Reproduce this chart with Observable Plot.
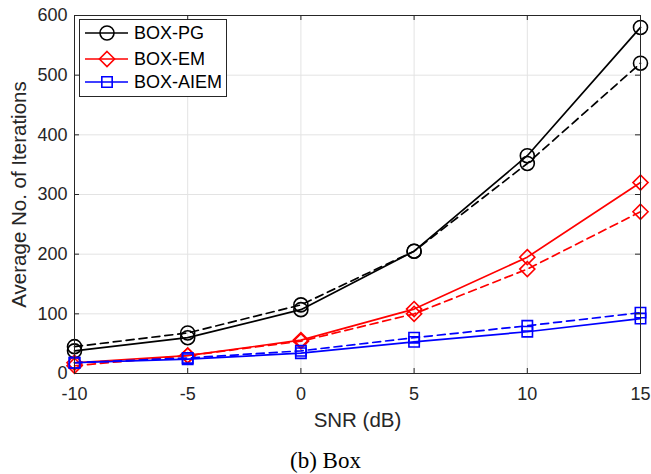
<!DOCTYPE html>
<html>
<head>
<meta charset="utf-8">
<script src="https://cdn.jsdelivr.net/npm/d3@7"></script>
<script src="https://cdn.jsdelivr.net/npm/@observablehq/plot@0.6"></script>
<style>
  html, body { margin: 0; padding: 0; background: #fff; }
  #wrap { position: relative; width: 651px; height: 474px; }
  #legend { position: absolute; left: 79px; top: 19px; width: 148px; height: 78px;
    border: 1px solid #262626; background: #fff; box-sizing: border-box; }
  #legend svg { display: block; }
</style>
</head>
<body>
<div id="wrap"></div>
<script>
const snr = [-10, -5, 0, 5, 10, 15];
const xTicks = [-10, -5, 0, 5, 10, 15];
const yTicks = [0, 100, 200, 300, 400, 500, 600];

const pgSolid    = [38, 60, 107, 205, 365, 580];
const pgDashed   = [45, 68, 115, 205, 352, 520];
const emSolid    = [18, 30, 56, 108, 195, 320];
const emDashed   = [13, 30, 54, 100, 175, 271];
const aiemSolid  = [18, 24, 34, 53, 70, 92];
const aiemDashed = [18, 26, 38, 60, 80, 102];

const seriesNames = ["BOX-PG", "BOX-EM", "BOX-AIEM"];
const seriesColors = ["#000000", "#ff0000", "#0000ff"];
const seriesSymbols = ["circle", "diamond2", "square2"];
const seriesR = [7, 6.8, 6.6];
const solidValues = [pgSolid, emSolid, aiemSolid];
const dashedValues = [pgDashed, emDashed, aiemDashed];

const W = 651, H = 474;
const mL = 74, mR = 11, mT = 15, mB = 101;
const plotW = W - mL - mR, plotH = H - mT - mB;
const font = "Liberation Sans, Arial, Helvetica, sans-serif";
const frameColor = "#262626";

const marks = [
  Plot.ruleX(xTicks, {stroke: "#e3e3e3", strokeWidth: 1}),
  Plot.ruleY(yTicks, {stroke: "#e3e3e3", strokeWidth: 1}),
];

seriesNames.forEach((name, k) => {
  [["dashed", dashedValues[k]], ["solid", solidValues[k]]].forEach(([style, vals]) => {
    const data = snr.map((x, i) => ({x, y: vals[i], series: name, style}));
    marks.push(Plot.line(data, {
      x: "x", y: "y", stroke: seriesColors[k], strokeWidth: 1.7,
      strokeDasharray: style === "dashed" ? "8,5" : null
    }));
    marks.push(Plot.dot(data, {
      x: "x", y: "y", symbol: seriesSymbols[k], r: seriesR[k],
      stroke: seriesColors[k], strokeWidth: 1.6, fill: "none"
    }));
  });
});

marks.push(
  Plot.frame({stroke: frameColor, strokeWidth: 1}),
  // inward ticks
  Plot.ruleX(xTicks, {stroke: frameColor, insetTop: plotH - 5}),
  Plot.ruleX(xTicks, {stroke: frameColor, insetBottom: plotH - 5}),
  Plot.ruleY(yTicks, {stroke: frameColor, insetRight: plotW - 5}),
  Plot.ruleY(yTicks, {stroke: frameColor, insetLeft: plotW - 5}),
  Plot.axisX(xTicks, {tickSize: 0, tickPadding: 14, fontSize: 18, fontFamily: font, fill: "#262626", label: null,
    tickFormat: d => String(d).replace("−", "-")}),
  Plot.axisY(yTicks, {tickSize: 0, tickPadding: 7, fontSize: 18, fontFamily: font, fill: "#262626", label: null}),
  Plot.text(["SNR (dB)"], {frameAnchor: "bottom", textAnchor: "middle", lineAnchor: "middle", dy: 47,
    fontSize: 20.5, fontFamily: font, fill: "#262626", text: d => d}),
  Plot.text(["Average No. of Iterations"], {frameAnchor: "left", textAnchor: "middle", lineAnchor: "middle",
    dx: -55, rotate: -90, fontSize: 20.5, fontFamily: font, fill: "#262626", text: d => d}),
  Plot.text(["(b) Box"], {frameAnchor: "bottom", textAnchor: "middle", lineAnchor: "middle", dy: 87, dx: -32,
    fontSize: 23, fontFamily: "Liberation Serif, Times New Roman, serif", fill: "#000", text: d => d})
);

const chart = Plot.plot({
  width: W, height: H,
  marginLeft: mL, marginRight: mR, marginTop: mT, marginBottom: mB,
  x: {domain: [-10, 15], axis: null},
  y: {domain: [0, 600], axis: null},
  style: {background: "#fff"},
  marks
});
const wrap = document.getElementById("wrap");
wrap.appendChild(chart);

// legend
const leg = document.createElement("div");
leg.id = "legend";
const ns = "http://www.w3.org/2000/svg";
const lsvg = document.createElementNS(ns, "svg");
lsvg.setAttribute("width", 146);
lsvg.setAttribute("height", 76);
const rowY = [13, 39, 62];
seriesNames.forEach((name, k) => {
  const y = rowY[k];
  const line = document.createElementNS(ns, "line");
  line.setAttribute("x1", 5); line.setAttribute("x2", 48);
  line.setAttribute("y1", y); line.setAttribute("y2", y);
  line.setAttribute("stroke", seriesColors[k]); line.setAttribute("stroke-width", 1.7);
  lsvg.appendChild(line);
  const sym = d3.symbol(k === 0 ? d3.symbolCircle : k === 1 ? d3.symbolDiamond2 : d3.symbolSquare2, Math.PI * seriesR[k] * seriesR[k]);
  const p = document.createElementNS(ns, "path");
  p.setAttribute("d", sym());
  p.setAttribute("transform", `translate(27,${y})`);
  p.setAttribute("fill", "none"); p.setAttribute("stroke", seriesColors[k]); p.setAttribute("stroke-width", 1.6);
  lsvg.appendChild(p);
  const t = document.createElementNS(ns, "text");
  t.setAttribute("x", 54); t.setAttribute("y", y);
  t.setAttribute("dy", "0.35em");
  t.setAttribute("font-family", font); t.setAttribute("font-size", 18);
  t.setAttribute("fill", "#000");
  t.textContent = name;
  lsvg.appendChild(t);
});
leg.appendChild(lsvg);
wrap.appendChild(leg);
</script>
</body>
</html>
